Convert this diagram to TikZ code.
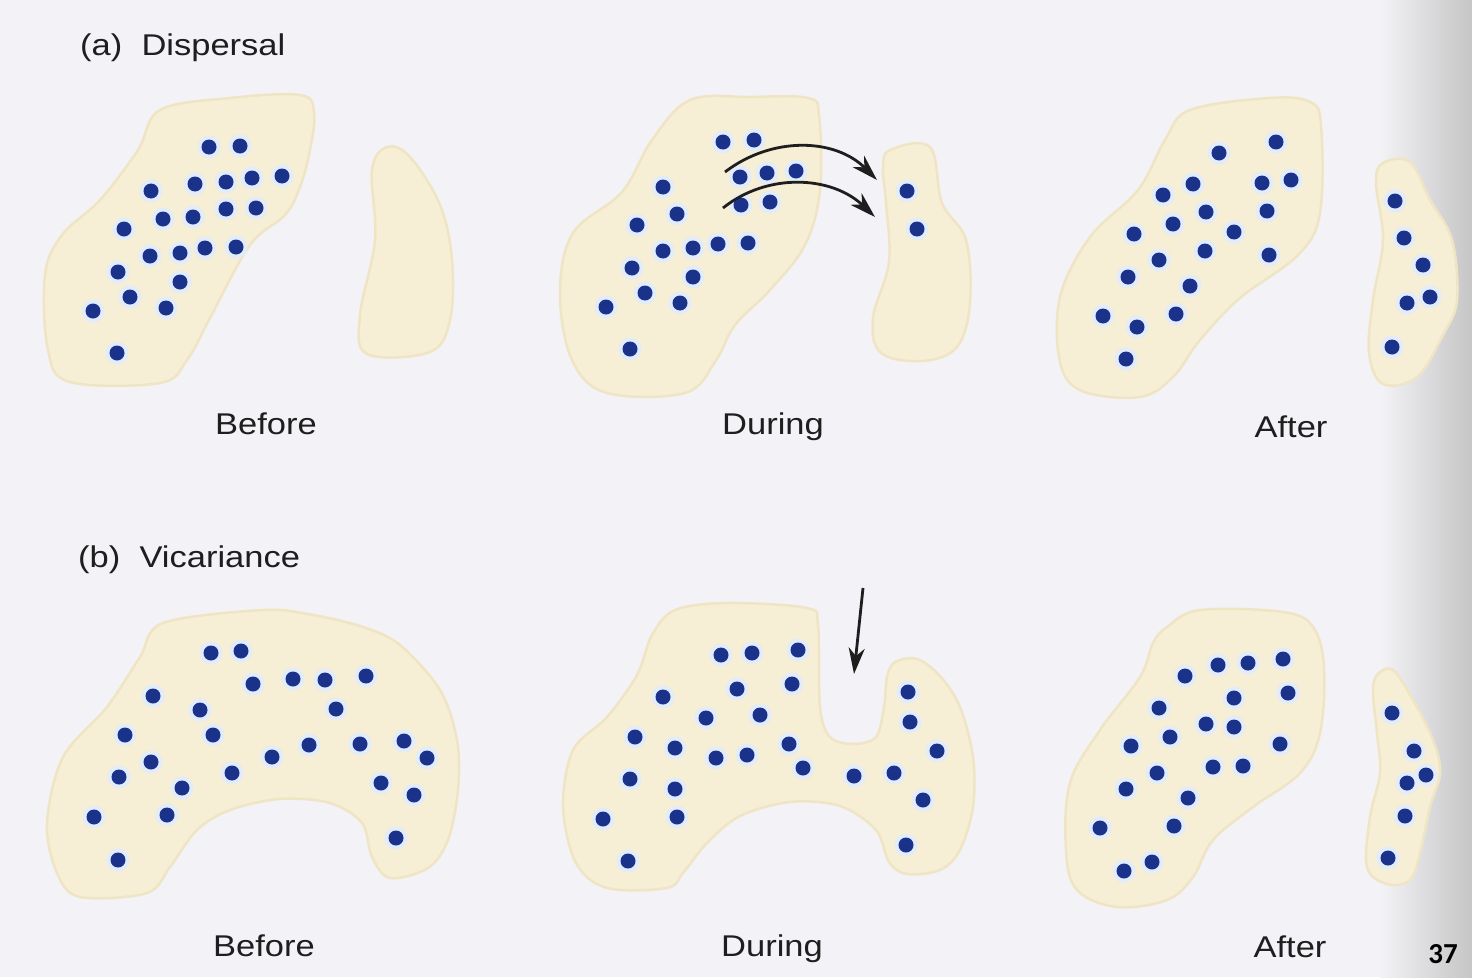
\documentclass[tikz,border=0pt]{standalone}
\usepackage{fontspec}
\setmainfont{Liberation Sans}[FakeStretch=1.15]
\newfontfamily\pagefont{Carlito}
\usepackage{xcolor}
\usetikzlibrary{arrows.meta}

\definecolor{paper}{RGB}{243,243,247}
\definecolor{sand}{RGB}{247,238,214}
\definecolor{coast}{RGB}{239,228,196}
\definecolor{popblue}{RGB}{27,50,138}
\definecolor{halo}{RGB}{226,236,250}
\definecolor{ink}{RGB}{30,30,30}

% one population dot, with its pale ring
\newcommand\popdot[2]{\fill[ring] (#1,#2) circle (11.5pt); \fill[indiv] (#1,#2) circle (7.5pt);}

\begin{document}
\begin{tikzpicture}[
    x=1pt, y=-1pt,
    island/.style={fill=sand, draw=coast, line width=2.5pt},
    indiv/.style={fill=popblue},
    ring/.style={fill=halo},
    lbl/.style={font=\fontsize{30}{34}\selectfont, text=ink, anchor=base, inner sep=0pt},
    move/.style={-{Stealth[length=26pt, width=16pt, inset=8pt]}, line width=2.8pt, ink},
  ]
  \useasboundingbox (0,0) rectangle (1472,977);
  \fill[paper] (0,0) rectangle (1472,977);
  \shade[left color=paper, right color=gray!45] (1380,0) rectangle (1472,977);

  % (a) dispersal -- before
  \draw[island] plot[smooth cycle, tension=0.6] coordinates {
    (160,110) (230,98) (300,95) (314,112) (310,150) (300,187) (285,215)
    (250,245) (210,318) (187,360) (160,383) (70,382) (48,350) (45,275)
    (62,235) (100,200) (138,150)};
  \draw[island] plot[smooth cycle, tension=0.6] coordinates {
    (387,147) (410,157) (440,205) (452,260) (450,320) (430,352) (367,354)
    (360,315) (375,240) (372,170)};
  \foreach \x/\y in {209/147,240/146,151/191,195/184,226/182,252/178,282/176,
    163/219,193/217,226/209,256/208,124/229,150/256,180/253,205/248,236/247,
    118/272,180/282,130/297,93/311,166/308,117/353}
    {\popdot{\x}{\y}}

  % (a) dispersal -- during
  \draw[island] plot[smooth cycle, tension=0.6] coordinates {
    (690,100) (750,97) (808,98) (819,115) (820,190) (805,245) (770,290)
    (735,325) (715,362) (685,393) (607,393) (572,360) (560,293) (573,233)
    (622,192) (652,140)};
  \draw[island] plot[smooth cycle, tension=0.6] coordinates {
    (890,150) (930,147) (942,203) (966,240) (970,303) (957,347) (923,361)
    (881,353) (873,318) (889,262) (886,203) (883,168)};
  \foreach \x/\y in {723/142,754/140,740/177,767/173,796/171,741/205,770/202,
    663/187,677/214,637/225,663/251,693/248,718/244,748/243,632/268,693/277,
    645/293,680/303,606/307,630/349,907/191,917/229}
    {\popdot{\x}{\y}}
  \coordinate (upA) at (725,172);
  \coordinate (upB) at (877,180);
  \coordinate (loA) at (723,208);
  \coordinate (loB) at (875,217);
  \draw[move] (upA) .. controls (772,136) and (835,138) .. (upB);
  \draw[move] (loA) .. controls (768,172) and (832,176) .. (loB);

  % (a) dispersal -- after
  \draw[island] plot[smooth cycle, tension=0.6] coordinates {
    (1190,110) (1270,98) (1310,102) (1321,125) (1320,213) (1298,255)
    (1240,298) (1200,340) (1173,377) (1140,397) (1082,391) (1060,362)
    (1060,297) (1090,237) (1138,190) (1165,140)};
  \draw[island] plot[smooth cycle, tension=0.6] coordinates {
    (1383,163) (1410,162) (1430,200) (1452,240) (1457,300) (1443,335)
    (1417,377) (1383,384) (1369,353) (1373,300) (1383,240) (1376,183)};
  \foreach \x/\y in {1276/142,1219/153,1193/184,1163/195,1262/183,1291/180,
    1206/212,1267/211,1173/224,1134/234,1234/232,1159/260,1205/251,1269/255,
    1128/277,1190/286,1103/316,1137/327,1176/314,1126/359,
    1395/201,1404/238,1423/265,1407/303,1430/297,1392/347}
    {\popdot{\x}{\y}}

  % (b) vicariance -- before
  \draw[island] plot[smooth cycle, tension=0.55] coordinates {
    (163,623) (263,610) (313,615) (363,627) (400,645) (440,690) (457,740)
    (458,790) (448,840) (428,868) (390,878) (372,857) (362,823) (330,803)
    (280,799) (230,810) (197,830) (170,867) (147,893) (80,897) (57,873)
    (47,823) (63,757) (107,707) (140,657)};
  \foreach \x/\y in {211/653,241/651,253/684,293/679,325/680,366/676,153/696,
    200/710,336/709,213/735,125/735,151/762,272/757,309/745,360/744,404/741,
    427/758,119/777,232/773,182/788,381/783,414/795,94/817,167/815,396/838,
    118/860}
    {\popdot{\x}{\y}}

  % (b) vicariance -- during
  \draw[island] plot[smooth cycle, tension=0.55] coordinates {
    (675,610) (727,603) (807,608) (818,625) (820,707) (830,737) (853,744)
    (876,737) (884,707) (887,677) (895,662) (917,659) (940,676) (960,707)
    (973,757) (973,807) (960,850) (940,870) (907,874) (889,862) (876,830)
    (840,806) (790,802) (740,816) (707,843) (683,873) (667,888) (607,888)
    (576,863) (563,807) (573,750) (607,717) (637,675) (652,635)};
  \foreach \x/\y in {721/655,752/653,798/650,737/689,792/684,663/697,706/718,
    760/715,635/737,675/748,716/758,747/755,789/744,803/768,854/776,894/773,
    908/692,910/722,937/751,923/800,630/779,675/789,677/817,603/819,628/861,
    906/845}
    {\popdot{\x}{\y}}
  \coordinate (cutA) at (863,588);
  \coordinate (cutB) at (854,674);
  \draw[move] (cutA) -- (cutB);

  % (b) vicariance -- after
  \draw[island] plot[smooth cycle, tension=0.6] coordinates {
    (1167,627) (1200,610) (1283,612) (1313,627) (1324,667) (1320,733)
    (1300,773) (1253,807) (1213,840) (1193,877) (1167,900) (1117,907)
    (1077,890) (1066,850) (1070,783) (1100,730) (1140,677) (1153,643)};
  \draw[island] plot[smooth cycle, tension=0.6] coordinates {
    (1377,675) (1393,670) (1413,700) (1433,740) (1440,773) (1430,807)
    (1420,853) (1410,880) (1387,884) (1367,867) (1370,817) (1380,773)
    (1377,733) (1373,693)};
  \foreach \x/\y in {1283/659,1248/663,1218/665,1185/676,1288/693,1234/698,
    1159/708,1206/724,1234/727,1170/737,1131/746,1280/744,1157/773,1213/767,
    1243/766,1126/789,1188/798,1100/828,1174/826,1152/862,1124/871,
    1392/713,1414/751,1426/775,1407/783,1405/816,1388/858}
    {\popdot{\x}{\y}}

  % labels
  \node[lbl, anchor=base west] (ttlA) at (80,55)  {(a)\ \ Dispersal};
  \node[lbl, anchor=base west] (ttlB) at (78,567) {(b)\ \ Vicariance};
  \node[lbl] (befA) at (266,434) {Before};
  \node[lbl] (durA) at (773,434) {During};
  \node[lbl] (aftA) at (1291,437) {After};
  \node[lbl] (befB) at (264,956) {Before};
  \node[lbl] (durB) at (772,956) {During};
  \node[lbl] (aftB) at (1290,957) {After};
  \node[anchor=base, inner sep=0pt, font=\pagefont\bfseries\fontsize{29}{32}\selectfont]
    (pgno) at (1443,963) {37};
\end{tikzpicture}
\end{document}
